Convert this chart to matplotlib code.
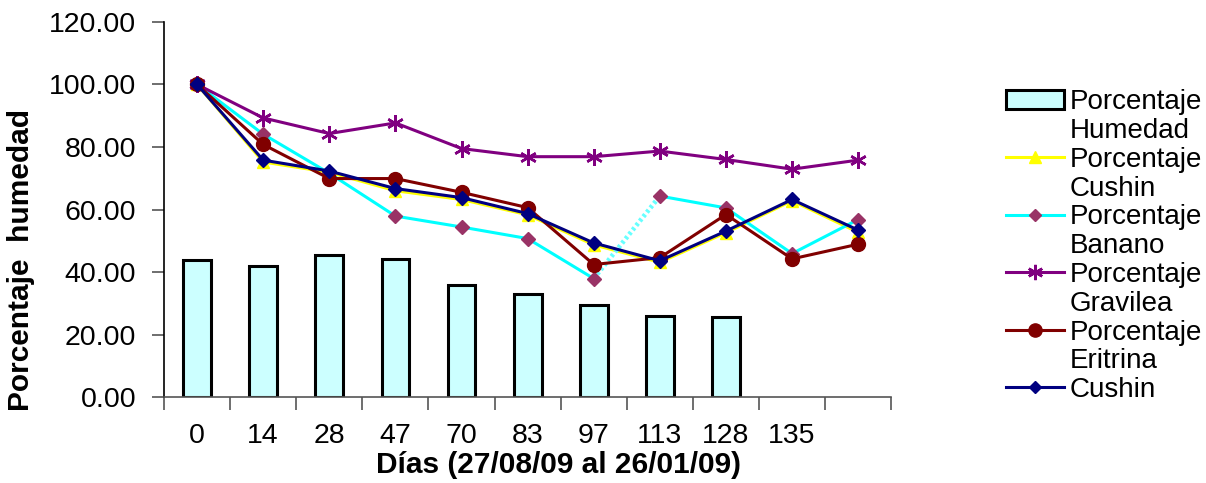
"""
plot.py

Humedad del suelo (barras) y porcentaje de humedad por especie (lineas)
a lo largo de los dias de muestreo. Saves out.png.
"""

import numpy as np
import matplotlib.pyplot as plt
from matplotlib.lines import Line2D
from matplotlib.patches import Patch

plt.rcParams['font.family'] = ['Liberation Sans', 'DejaVu Sans']

dias = ["0", "14", "28", "47", "70", "83", "97", "113", "128", "135", ""]

humedad = [43.7, 42.0, 45.4, 44.3, 35.8, 33.1, 29.6, 25.9, 25.6]

pct_cushin = [100.0, 75.2, 71.9, 66.0, 63.2, 58.3, 48.7, 43.1, 52.6, 62.8, 52.7]
pct_banano = [100.0, 84.1, 71.6, 57.9, 54.4, 50.7, 37.9, 64.3, 60.5, 45.9, 56.8]
pct_gravilea = [100.0, 89.3, 84.3, 87.7, 79.5, 76.9, 76.9, 78.7, 76.0, 72.9, 75.8]
pct_eritrina = [100.0, 80.8, 69.9, 69.9, 65.5, 60.6, 42.4, 44.6, 58.4, 44.2, 48.9]
cushin = [100.0, 75.8, 72.3, 66.7, 63.8, 58.7, 49.3, 43.6, 53.1, 63.2, 53.4]

FS = 20.5
FS_LEG = 20
FS_TITLE = 21.5
LW = 2.2


def draw_banano(ax, x, y):
    # solid line except the 97 -> 113 step, which is dotted
    kw = dict(color='#00FFFF', lw=LW)
    ax.plot(x[6:8], y[6:8], color='#66FFFF', lw=3.4, ls=(0, (0.6, 0.6)), zorder=3)
    ax.plot(x[:7], y[:7], zorder=3, **kw)
    ax.plot(x[7:], y[7:], zorder=3, **kw)
    ax.plot(x, y, ls='none', marker='D', ms=7, mfc='#993366', mec='#993366', zorder=3)


def main():
    fig = plt.figure(figsize=(12.06, 4.83), dpi=100)
    ax = fig.add_axes([0.136, 0.178, 0.603, 0.7765])

    x = np.arange(len(dias))
    xb = np.arange(len(humedad))

    ax.bar(xb, humedad, width=0.42, color='#CCFFFF', edgecolor='black',
           linewidth=2.2, zorder=2)

    ax.plot(x, pct_cushin, color='#FFFF00', lw=LW, marker='^', ms=8,
            mfc='#FFFF00', mec='#FFFF00', zorder=3)
    draw_banano(ax, x, pct_banano)
    ax.plot(x, pct_gravilea, color='#800080', lw=LW, marker=(6, 2, 0), ms=12,
            mec='#800080', mew=1.8, zorder=4)
    ax.plot(x, pct_eritrina, color='#800000', lw=LW, marker='o', ms=10,
            mfc='#800000', mec='#800000', zorder=5)
    ax.plot(x, cushin, color='#000080', lw=LW, marker='D', ms=7.5,
            mfc='#000080', mec='#000080', zorder=6)

    # axes
    ax.set_xlim(-0.5, len(dias) - 0.5)
    ax.set_ylim(0, 120)
    ax.set_yticks(np.arange(0, 121, 20))
    ax.set_yticklabels([f"{v:.2f}" for v in np.arange(0, 121, 20)], fontsize=FS)
    ax.tick_params(axis='y', direction='out', length=9, width=1.2,
                   color='#555555', pad=11)

    ax.set_xticks(np.arange(-0.5, len(dias), 1))
    ax.set_xticklabels([])
    ax.tick_params(axis='x', which='major', direction='out', length=9,
                   width=1.2, color='#555555')
    ax.set_xticks(x, minor=True)
    ax.set_xticklabels(dias, minor=True, fontsize=FS)
    ax.tick_params(axis='x', which='minor', length=0, pad=19)

    for s in ['top', 'right']:
        ax.spines[s].set_visible(False)
    ax.spines['left'].set_linewidth(1.2)
    ax.spines['bottom'].set_linewidth(1.2)
    ax.spines['bottom'].set_color('#555555')

    ax.set_xlabel("Días (27/08/09 al 26/01/09)", fontsize=FS_TITLE,
                  fontweight='bold')
    ax.xaxis.set_label_coords(0.543, -0.143)
    ax.set_ylabel("Porcentaje  humedad", fontsize=FS_TITLE, fontweight='bold')
    ax.yaxis.set_label_coords(-0.178, 0.365)

    # legend: second line of each label goes on its own blank row
    blank = Line2D([], [], color='none')
    handles = [
        Patch(facecolor='#CCFFFF', edgecolor='black', linewidth=2.2), blank,
        Line2D([], [], color='#FFFF00', lw=LW, marker='^', ms=8), blank,
        Line2D([], [], color='#00FFFF', lw=LW, marker='D', ms=6,
               mfc='#993366', mec='#993366'), blank,
        Line2D([], [], color='#800080', lw=LW, marker=(6, 2, 0), ms=11, mew=1.8), blank,
        Line2D([], [], color='#800000', lw=LW, marker='o', ms=9.5), blank,
        Line2D([], [], color='#000080', lw=LW, marker='D', ms=6.5),
    ]
    labels = ["Porcentaje", "Humedad", "Porcentaje", "Cushin", "Porcentaje",
              "Banano", "Porcentaje", "Gravilea", "Porcentaje", "Eritrina",
              "Cushin"]
    fig.legend(handles, labels, loc='upper left', bbox_to_anchor=(0.834, 0.815),
               frameon=False, fontsize=FS_LEG, handlelength=2.1, handletextpad=0.2,
               labelspacing=0.1, borderpad=0, borderaxespad=0)

    fig.savefig("out.png", dpi=100)


if __name__ == "__main__":
    main()
